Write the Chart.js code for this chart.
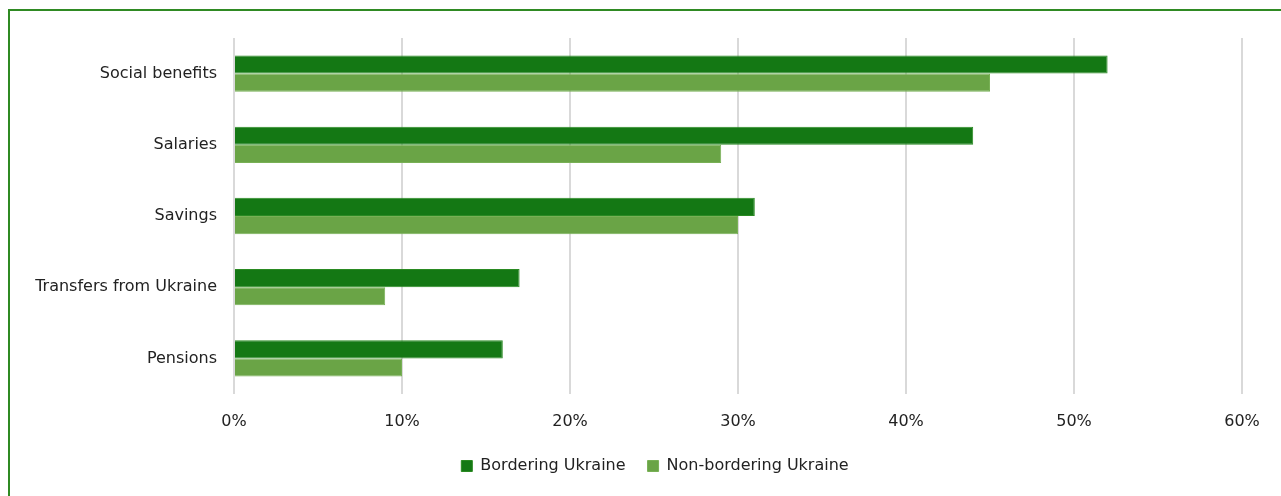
<!DOCTYPE html>
<html>
<head>
    <meta charset='utf-8'>
    <title>Income sources</title>
    <script src="https://cdn.jsdelivr.net/npm/chart.js@4.4.0/dist/chart.umd.min.js"></script>
    <style>
        body { margin: 0; background: #fff; }
        #wrap { position: relative; width: 1281px; height: 496px; overflow: hidden; }
        #frame { position: absolute; left: 8px; top: 9px; width: 1400px; height: 600px; border: 2px solid #2f8a23; }
        canvas { position: absolute; left: 0; top: 0; }
    </style>
</head>
<body>
<div id="wrap">
    <div id="frame"></div>
    <canvas id="myChart" width="1281" height="496"></canvas>
</div>
<script>
    const categories = ['Social benefits', 'Salaries', 'Savings', 'Transfers from Ukraine', 'Pensions'];
    const bordering = [52, 44, 31, 17, 16];
    const nonBordering = [45, 29, 30, 9, 10];

    const ctx = document.getElementById('myChart').getContext('2d');
    Chart.defaults.font.family = "'DejaVu Sans', Verdana, sans-serif";
    Chart.defaults.font.size = 16;
    Chart.defaults.color = '#222';

    // the legend sits a bit right of centre in the original, nudge it over
    const legendShift = {
        id: 'legendShift',
        afterLayout(chart) {
            if (chart.legend) chart.legend.left += 68;
        }
    };

    new Chart(ctx, {
        type: 'bar',
        data: {
            labels: categories,
            datasets: [{
                label: 'Bordering Ukraine',
                data: bordering,
                backgroundColor: '#147814',
                borderColor: '#2a8a22',
                borderWidth: 1
            }, {
                label: 'Non-bordering Ukraine',
                data: nonBordering,
                backgroundColor: '#6aa446',
                borderColor: '#78b055',
                borderWidth: 1
            }]
        },
        options: {
            indexAxis: 'y',
            responsive: false,
            animation: false,
            layout: { padding: { top: 38, right: 39, bottom: 12, left: 0 } },
            datasets: { bar: { categoryPercentage: 0.51, barPercentage: 1.0 } },
            scales: {
                x: {
                    min: 0,
                    max: 60,
                    ticks: { stepSize: 10, padding: 18, callback: v => v + '%' },
                    grid: { color: '#d9d9d9', lineWidth: 2, drawTicks: false },
                    border: { display: false },
                    afterFit: s => { s.height = 42; }
                },
                y: {
                    grid: { display: false, drawTicks: false },
                    border: { display: false },
                    ticks: { padding: 17 },
                    afterFit: s => { s.width = 234; }
                }
            },
            plugins: {
                legend: {
                    position: 'bottom',
                    labels: { boxWidth: 11, boxHeight: 11, padding: 22, color: '#222' }
                },
                tooltip: { enabled: false }
            }
        },
        plugins: [legendShift]
    });
</script>
</body>
</html>
